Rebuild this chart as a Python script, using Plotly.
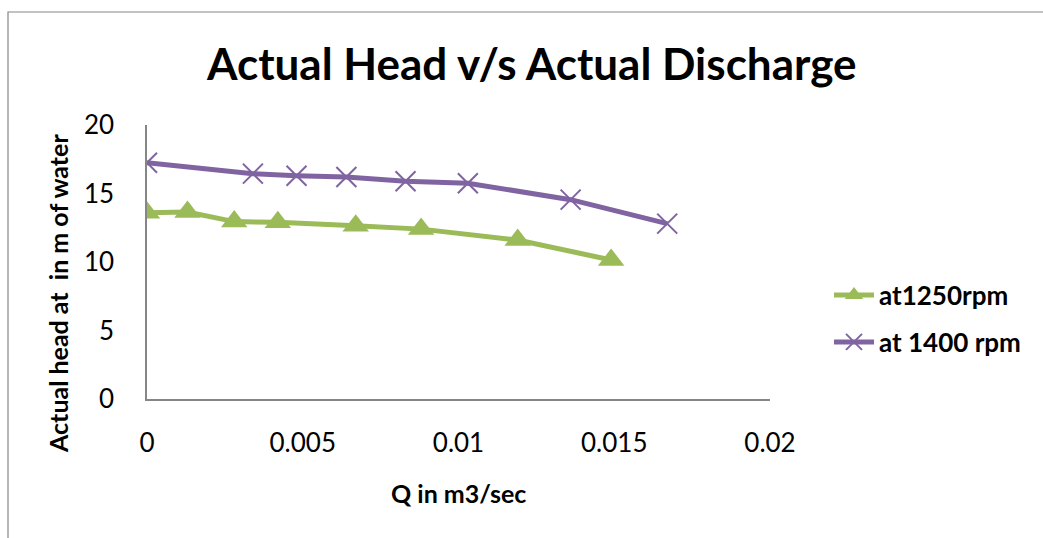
import plotly.graph_objects as go

# Data
q_1250 = [0, 0.0013, 0.0028, 0.0042, 0.0067, 0.0088, 0.0119, 0.0149]
h_1250 = [13.6, 13.65, 12.95, 12.9, 12.65, 12.4, 11.6, 10.15]
q_1400 = [0, 0.0034, 0.0048, 0.0064, 0.0083, 0.0103, 0.0136, 0.0167]
h_1400 = [17.25, 16.45, 16.3, 16.2, 15.9, 15.75, 14.55, 12.8]

x_ticks = [0, 0.005, 0.01, 0.015, 0.02]
x_tick_labels = ["0", "0.005", "0.01", "0.015", "0.02"]
y_ticks = [0, 5, 10, 15, 20]

GREEN = "#9BBB59"
PURPLE = "#8064A2"
AXIS = "#868686"
FONT = "Lato"

W, H = 1043, 538
L, R, T, B = 147, 770, 125, 399  # plot area in pixels
PW, PH = R - L, B - T


def px(x):
    return (x - L) / PW


def py(y):
    return (B - y) / PH


fig = go.Figure()
fig.add_trace(go.Scatter(
    x=q_1250, y=h_1250, mode="lines+markers", name="at1250rpm",
    line=dict(color=GREEN, width=5),
    marker=dict(symbol="triangle-up", size=23, color=GREEN),
    legend="legend",
))
fig.add_trace(go.Scatter(
    x=q_1400, y=h_1400, mode="lines+markers", name="at 1400 rpm",
    line=dict(color=PURPLE, width=5),
    marker=dict(symbol="x-thin", size=20, color=PURPLE,
                line=dict(color=PURPLE, width=2)),
    legend="legend2",
))

legend_font = dict(family=FONT, size=26, color="black", weight="bold")

fig.update_layout(
    width=W, height=H,
    margin=dict(l=L, r=W - R, t=T, b=H - B, pad=0),
    paper_bgcolor="white", plot_bgcolor="white",
    font=dict(family=FONT, color="black", size=26),
    showlegend=True,
    legend=dict(x=px(829), y=py(295), xanchor="left", yanchor="middle",
                bgcolor="rgba(0,0,0,0)", font=legend_font, itemwidth=40),
    legend2=dict(x=px(829), y=py(342), xanchor="left", yanchor="middle",
                 bgcolor="rgba(0,0,0,0)", font=legend_font, itemwidth=40),
    xaxis=dict(range=[0, 0.02], tickvals=x_ticks, ticktext=x_tick_labels,
               showgrid=False, zeroline=False, showline=True,
               linecolor=AXIS, linewidth=1.5, ticks="",
               ticklabelstandoff=20,
               tickfont=dict(family=FONT, size=26, color="black")),
    yaxis=dict(range=[0, 20], tickvals=y_ticks, showgrid=False, zeroline=False,
               showline=True, linecolor=AXIS, linewidth=1.5, ticks="",
               ticklabelstandoff=26,
               tickfont=dict(family=FONT, size=26, color="black")),
    annotations=[
        dict(text="<b>Actual Head v/s Actual Discharge</b>", xref="paper", yref="paper",
             x=px(531), y=py(63), xanchor="center", yanchor="middle", showarrow=False,
             font=dict(family=FONT, size=44, color="black")),
        dict(text="<b>Q in m3/sec</b>", xref="paper", yref="paper",
             x=px(458), y=py(493), xanchor="center", yanchor="middle", showarrow=False,
             font=dict(family=FONT, size=25, color="black")),
        dict(text="<b>Actual head at  in m of water</b>", xref="paper", yref="paper",
             x=px(58), y=py(294), xanchor="center", yanchor="middle", showarrow=False,
             textangle=-90, font=dict(family=FONT, size=25, color="black")),
    ],
    shapes=[
        dict(type="rect", xref="paper", yref="paper",
             x0=px(8), x1=px(1100), y0=py(600), y1=py(12),
             line=dict(color=AXIS, width=1.2), fillcolor="rgba(0,0,0,0)", layer="below"),
    ],
)

fig.write_html("out.html")
